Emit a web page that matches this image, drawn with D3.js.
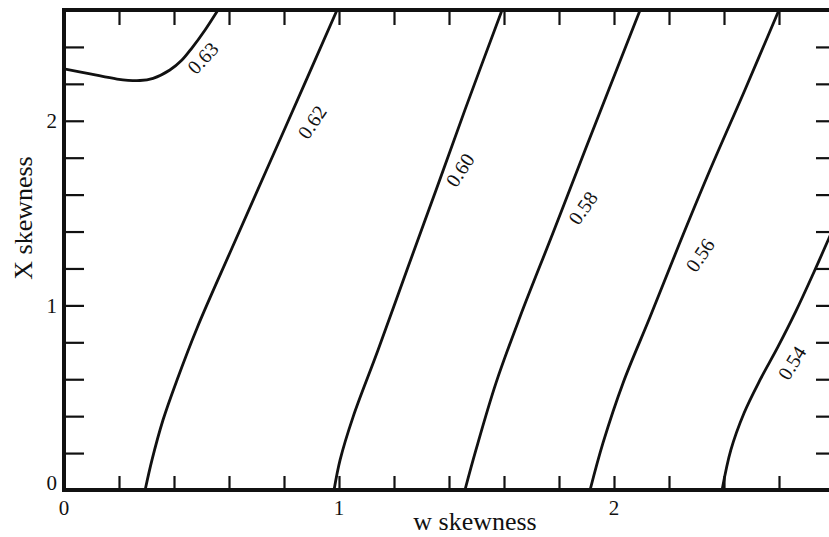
<!DOCTYPE html>
<html lang="en">
<head>
    <meta charset="UTF-8">
    <title>X skewness vs w skewness contours</title>
    <style>
        body { margin: 0; background: #fff; }
        svg { display: block; }
    </style>
</head>
<body>
<script src="https://d3js.org/d3.v7.min.js" charset="utf-8"></script>
<script>
    // contour levels, each traced as [w skewness, X skewness] points
    var levels = ["0.63", "0.62", "0.60", "0.58", "0.56", "0.54"];

    var curve063 = [[0, 2.281], [0.095, 2.254], [0.193, 2.226], [0.276, 2.218], [0.324, 2.230],
        [0.385, 2.275], [0.429, 2.329], [0.465, 2.394], [0.513, 2.492], [0.560, 2.6]];
    var curve062 = [[0.295, 0], [0.32, 0.163], [0.36, 0.379], [0.411, 0.596], [0.484, 0.878],
        [0.611, 1.311], [0.804, 1.961], [0.993, 2.6]];
    var curve060 = [[0.982, 0], [1.004, 0.163], [1.051, 0.395], [1.142, 0.758], [1.251, 1.208],
        [1.353, 1.625], [1.458, 2.059], [1.593, 2.6]];
    var curve058 = [[1.458, 0], [1.498, 0.217], [1.571, 0.580], [1.658, 0.937], [1.778, 1.392],
        [1.895, 1.842], [2.095, 2.6]];
    var curve056 = [[1.913, 0], [1.960, 0.255], [2.033, 0.580], [2.131, 0.937], [2.236, 1.327],
        [2.349, 1.733], [2.476, 2.167], [2.6, 2.6]];
    var curve054 = [[2.393, 0], [2.425, 0.217], [2.473, 0.417], [2.531, 0.596], [2.596, 0.775],
        [2.662, 0.970], [2.724, 1.170], [2.782, 1.365], [2.8, 1.425]];

    var curves = [curve063, curve062, curve060, curve058, curve056, curve054];

    // where each level's label sits (data coords) and its tilt
    var labelW = [0.505, 0.902, 1.44, 1.887, 2.313, 2.647];
    var labelX = [2.340, 1.993, 1.733, 1.528, 1.273, 0.688];
    var labelAngle = [-47, -56, -57, -55, -56, -58];

    // axes
    var wTicks = [0.2, 0.4, 0.6, 0.8, 1.0, 1.2, 1.4, 1.6, 1.8, 2.0, 2.2, 2.4, 2.6];
    var xTicks = [0.2, 0.4, 0.6, 0.8, 1.0, 1.2, 1.4, 1.6, 1.8, 2.0, 2.2, 2.4];
    var wLabels = [0, 1, 2];
    var xLabels = [0, 1, 2];

    var width = 829,
        height = 537;
    var mLeft = 64, mRight = 834, mTop = 10, mBottom = 490;

    var svg = d3.select("body")
        .append("svg")
        .attr("width", width)
        .attr("height", height);

    var x = d3.scaleLinear().domain([0, 2.8]).range([mLeft, mRight]);
    var y = d3.scaleLinear().domain([0, 2.6]).range([mBottom, mTop]);

    svg.append("clipPath").attr("id", "plot")
        .append("rect")
        .attr("x", mLeft).attr("y", mTop)
        .attr("width", mRight - mLeft).attr("height", mBottom - mTop);

    var serif = "'Liberation Serif', 'DejaVu Serif', serif";

    // ticks on all four sides, pointing inward
    function tickAxis(gen, tr, vals, size) {
        var g = svg.append("g")
            .attr("transform", tr)
            .call(gen.tickValues(vals).tickSizeInner(size).tickSizeOuter(0).tickFormat(""));
        g.select(".domain").remove();
        g.selectAll(".tick line").attr("stroke", "#111").attr("stroke-width", 2.2);
    }
    tickAxis(d3.axisBottom(x), "translate(0," + mBottom + ")", wTicks, -14);
    tickAxis(d3.axisTop(x), "translate(0," + mTop + ")", wTicks, -15);
    tickAxis(d3.axisLeft(y), "translate(" + mLeft + ",0)", xTicks, -20);
    tickAxis(d3.axisRight(y), "translate(" + mRight + ",0)", xTicks, -18);

    // contour lines
    var line = d3.line()
        .x(function(d){ return x(d[0]); })
        .y(function(d){ return y(d[1]); })
        .curve(d3.curveCatmullRom.alpha(0.5));

    svg.append("g")
        .attr("clip-path", "url(#plot)")
        .selectAll("path")
        .data(curves)
        .enter().append("path")
        .attr("d", line)
        .attr("fill", "none")
        .attr("stroke", "#111")
        .attr("stroke-width", 2.8)
        .attr("stroke-linejoin", "round");

    svg.append("g")
        .selectAll("text")
        .data(levels)
        .enter().append("text")
        .attr("transform", function(d, i){
            return "translate(" + x(labelW[i]) + "," + y(labelX[i]) + ") rotate(" + labelAngle[i] + ")";
        })
        .attr("text-anchor", "middle")
        .attr("dy", "0.35em")
        .attr("font-family", serif)
        .attr("font-size", 20)
        .attr("fill", "#111")
        .text(function(d){ return d; });

    // frame
    svg.append("rect")
        .attr("x", mLeft).attr("y", mTop)
        .attr("width", mRight - mLeft).attr("height", mBottom - mTop)
        .attr("fill", "none")
        .attr("stroke", "#111")
        .attr("stroke-width", 4);

    // tick labels
    svg.append("g")
        .selectAll("text")
        .data(wLabels)
        .enter().append("text")
        .attr("x", function(d){ return x(d); })
        .attr("y", 515)
        .attr("text-anchor", "middle")
        .attr("font-family", serif)
        .attr("font-size", 21)
        .attr("fill", "#111")
        .text(function(d){ return d; });

    svg.append("g")
        .selectAll("text")
        .data(xLabels)
        .enter().append("text")
        .attr("x", 57)
        .attr("y", function(d){ return y(d) - (d === 0 ? 7 : 0); })
        .attr("dy", "0.35em")
        .attr("text-anchor", "end")
        .attr("font-family", serif)
        .attr("font-size", 21)
        .attr("fill", "#111")
        .text(function(d){ return d; });

    // axis titles
    svg.append("text")
        .attr("x", 475)
        .attr("y", 530)
        .attr("text-anchor", "middle")
        .attr("font-family", serif)
        .attr("font-size", 26)
        .attr("fill", "#111")
        .text("w skewness");

    svg.append("text")
        .attr("transform", "translate(32,218) rotate(-90)")
        .attr("text-anchor", "middle")
        .attr("font-family", serif)
        .attr("font-size", 26)
        .attr("fill", "#111")
        .text("X skewness");
</script>
</body>
</html>
